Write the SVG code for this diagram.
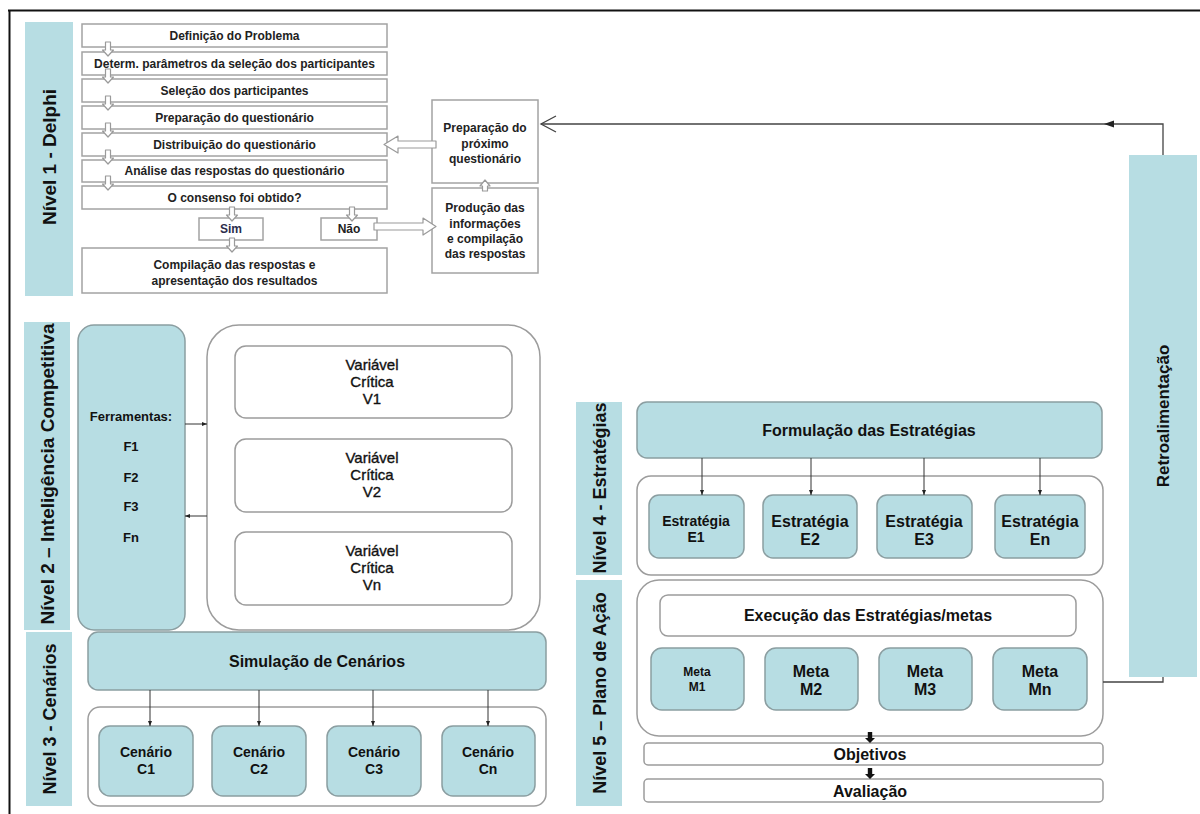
<svg xmlns="http://www.w3.org/2000/svg" width="1200" height="814" viewBox="0 0 1200 814">
  <defs>
    <style>
      .band { fill: #b7dde3; }
      .band-t { font-family: "Liberation Sans", Arial, sans-serif; font-weight: 700; fill: #111; text-anchor: middle; }
      .step { fill: #fff; stroke: #a3a3a3; stroke-width: 1.5; }
      .step-t { font-family: "Liberation Sans", Arial, sans-serif; font-weight: 700; font-size: 12px; fill: #222; text-anchor: middle; }
      .teal { fill: #b7dde3; stroke: #8b9ea1; stroke-width: 1.5; }
      .frame { fill: #fff; stroke: #9c9c9c; stroke-width: 1.5; }
      .lbl { font-family: "Liberation Sans", Arial, sans-serif; font-weight: 700; fill: #111; text-anchor: middle; }
      .var { font-family: "Liberation Sans", Arial, sans-serif; font-size: 15px; fill: #111; stroke: #111; stroke-width: 0.35; text-anchor: middle; }
      .hollow { fill: #fff; stroke: #9a9a9a; stroke-width: 1.2; stroke-linejoin: round; }
      .link { fill: none; stroke: #333; stroke-width: 1; }
      .fb { fill: none; stroke: #444; stroke-width: 1.3; }
      .thick { fill: #111; }
    </style>
    <marker id="tip" viewBox="0 0 10 10" refX="10" refY="5" markerWidth="5" markerHeight="5" orient="auto">
      <path d="M0,1 L10,5 L0,9 z" fill="#222"/>
    </marker>
    <!-- hollow down arrow, tip at origin -->
    <path id="hdown" d="M-2.5,-14 L2.5,-14 L2.5,-6 L5.5,-6 L0,0 L-5.5,-6 L-2.5,-6 z"/>
    <!-- thick black down arrow, tip at origin -->
    <path id="bdown" d="M-2.2,-11 L2.2,-11 L2.2,-5 L5,-5 L0,0 L-5,-5 L-2.2,-5 z"/>
  </defs>

  <rect width="1200" height="814" fill="#fff"/>
  <!-- page edges -->
  <path d="M8,10.5 H1200 M9.5,10 V814" stroke="#111" stroke-width="2" fill="none"/>

  <!-- ============ Level 1 : Delphi ============ -->
  <g id="nivel1">
    <rect class="band" x="25" y="22" width="48" height="274"/>
    <text class="band-t" font-size="19" font-weight="bold" transform="translate(55.5,157) rotate(-90)">Nível 1 - Delphi</text>
  </g>
  <g id="definicao"><rect class="step" x="82" y="24" width="305" height="23"/><text class="step-t" x="234.5" y="40">Definição do Problema</text></g>
  <g id="determ"><rect class="step" x="82" y="52" width="305" height="23"/><text class="step-t" x="234.5" y="68">Determ. parâmetros da seleção dos participantes</text></g>
  <g id="selecao"><rect class="step" x="82" y="79" width="305" height="23"/><text class="step-t" x="234.5" y="95">Seleção dos participantes</text></g>
  <g id="preparacao"><rect class="step" x="82" y="106" width="305" height="23"/><text class="step-t" x="234.5" y="122">Preparação do questionário</text></g>
  <g id="distribuicao"><rect class="step" x="82" y="133" width="305" height="23"/><text class="step-t" x="234.5" y="149">Distribuição do questionário</text></g>
  <g id="analise"><rect class="step" x="82" y="160" width="305" height="22"/><text class="step-t" x="234.5" y="175">Análise das respostas do questionário</text></g>
  <g id="consenso"><rect class="step" x="82" y="186" width="305" height="23"/><text class="step-t" x="234.5" y="202">O consenso foi obtido?</text></g>
  <g id="sim"><rect class="step" x="199" y="218" width="64" height="22"/><text class="step-t" x="231" y="233" style="fill:#2b2d4c">Sim</text></g>
  <g id="nao"><rect class="step" x="321" y="218" width="56" height="22"/><text class="step-t" x="349" y="233">Não</text></g>
  <g id="compilacao"><rect class="step" x="82" y="248" width="305" height="45"/>
    <text class="step-t" x="234.5" y="269">Compilação das respostas e</text>
    <text class="step-t" x="234.5" y="285">apresentação dos resultados</text></g>
  <g id="proximo"><rect class="step" x="432" y="100" width="106" height="83"/>
    <text class="step-t" x="485" y="132">Preparação do</text>
    <text class="step-t" x="485" y="148">próximo</text>
    <text class="step-t" x="485" y="163">questionário</text></g>
  <g id="producao"><rect class="step" x="432" y="188" width="106" height="85"/>
    <text class="step-t" x="485" y="212">Produção das</text>
    <text class="step-t" x="485" y="228">informações</text>
    <text class="step-t" x="485" y="243">e compilação</text>
    <text class="step-t" x="485" y="258">das respostas</text></g>

  <!-- ============ Level 2 : Competitive intelligence ============ -->
  <g id="nivel2">
    <rect class="band" x="24" y="322" width="46" height="308"/>
    <text class="band-t" font-size="19" font-weight="bold" transform="translate(54,474) rotate(-90)">Nível 2 – Inteligência Competitiva</text>
  </g>
  <g id="ferramentas">
    <rect class="teal" x="78" y="325" width="107" height="305" rx="16"/>
    <text class="lbl" font-size="13" x="131" y="421">Ferramentas:</text>
    <text class="lbl" font-size="13" x="131" y="451">F1</text>
    <text class="lbl" font-size="13" x="131" y="482">F2</text>
    <text class="lbl" font-size="13" x="131" y="511">F3</text>
    <text class="lbl" font-size="13" x="131" y="542">Fn</text>
  </g>
  <g id="variaveis">
    <rect class="frame" x="207" y="325" width="333" height="305" rx="32"/>
  </g>
  <g id="v1"><rect class="frame" x="235" y="346" width="277" height="72" rx="11"/>
    <text class="var" x="372" y="370">Variável</text><text class="var" x="372" y="387">Crítica</text><text class="var" x="372" y="404">V1</text></g>
  <g id="v2"><rect class="frame" x="235" y="439" width="277" height="73" rx="11"/>
    <text class="var" x="372" y="463">Variável</text><text class="var" x="372" y="480">Crítica</text><text class="var" x="372" y="497">V2</text></g>
  <g id="vn"><rect class="frame" x="235" y="532" width="277" height="73" rx="11"/>
    <text class="var" x="372" y="556">Variável</text><text class="var" x="372" y="573">Crítica</text><text class="var" x="372" y="590">Vn</text></g>

  <!-- ============ Level 3 : Scenarios ============ -->
  <g id="nivel3">
    <rect class="band" x="26" y="632" width="46" height="174"/>
    <text class="band-t" font-size="18" font-weight="bold" transform="translate(55.5,719) rotate(-90)">Nível 3 - Cenários</text>
  </g>
  <g id="simulacao"><rect class="teal" x="88" y="632" width="458" height="58" rx="10"/>
    <text class="lbl" font-size="16" x="317" y="667">Simulação de Cenários</text></g>
  <g id="cenarios"><rect class="frame" x="88" y="707" width="458" height="99" rx="12"/></g>
  <g id="c1"><rect class="teal" x="99" y="726" width="94" height="70" rx="11"/>
    <text class="lbl" font-size="14" x="146" y="757">Cenário</text><text class="lbl" font-size="14" x="146" y="774">C1</text></g>
  <g id="c2"><rect class="teal" x="212" y="726" width="94" height="70" rx="11"/>
    <text class="lbl" font-size="14" x="259" y="757">Cenário</text><text class="lbl" font-size="14" x="259" y="774">C2</text></g>
  <g id="c3"><rect class="teal" x="327" y="726" width="94" height="70" rx="11"/>
    <text class="lbl" font-size="14" x="374" y="757">Cenário</text><text class="lbl" font-size="14" x="374" y="774">C3</text></g>
  <g id="cn"><rect class="teal" x="442" y="726" width="93" height="70" rx="11"/>
    <text class="lbl" font-size="14" x="488" y="757">Cenário</text><text class="lbl" font-size="14" x="488" y="774">Cn</text></g>

  <!-- ============ Level 4 : Strategies ============ -->
  <g id="nivel4">
    <rect class="band" x="576" y="402" width="46" height="173"/>
    <text class="band-t" font-size="18" font-weight="bold" transform="translate(605.5,488) rotate(-90)">Nível 4 - Estratégias</text>
  </g>
  <g id="formulacao"><rect class="teal" x="637" y="402" width="465" height="56" rx="10"/>
    <text class="lbl" font-size="16" x="869" y="436">Formulação das Estratégias</text></g>
  <g id="estrategias"><rect class="frame" x="637" y="476" width="466" height="99" rx="14"/></g>
  <g id="e1"><rect class="teal" x="649" y="495" width="95" height="63" rx="10"/>
    <text class="lbl" font-size="14" x="696" y="526">Estratégia</text><text class="lbl" font-size="14" x="696" y="542">E1</text></g>
  <g id="e2"><rect class="teal" x="763" y="495" width="94" height="63" rx="10"/>
    <text class="lbl" font-size="16" x="810" y="527">Estratégia</text><text class="lbl" font-size="16" x="810" y="545">E2</text></g>
  <g id="e3"><rect class="teal" x="877" y="495" width="95" height="63" rx="10"/>
    <text class="lbl" font-size="16" x="924" y="527">Estratégia</text><text class="lbl" font-size="16" x="924" y="545">E3</text></g>
  <g id="en"><rect class="teal" x="995" y="495" width="90" height="63" rx="10"/>
    <text class="lbl" font-size="16" x="1040" y="527">Estratégia</text><text class="lbl" font-size="16" x="1040" y="545">En</text></g>

  <!-- ============ Level 5 : Action plan ============ -->
  <g id="nivel5">
    <rect class="band" x="576" y="580" width="46" height="226"/>
    <text class="band-t" font-size="18" font-weight="bold" transform="translate(605.5,693) rotate(-90)">Nível 5 – Plano de Ação</text>
  </g>
  <g id="plano"><rect class="frame" x="637" y="580" width="466" height="156" rx="22"/></g>
  <g id="execucao"><rect class="frame" x="660" y="595" width="416" height="41" rx="8"/>
    <text class="lbl" font-size="16" x="868" y="621">Execução das Estratégias/metas</text></g>
  <g id="m1"><rect class="teal" x="651" y="648" width="93" height="62" rx="11"/>
    <text class="lbl" font-size="12" x="697" y="676">Meta</text><text class="lbl" font-size="12" x="697" y="691">M1</text></g>
  <g id="m2"><rect class="teal" x="765" y="648" width="93" height="62" rx="11"/>
    <text class="lbl" font-size="16" x="811" y="677">Meta</text><text class="lbl" font-size="16" x="811" y="695">M2</text></g>
  <g id="m3"><rect class="teal" x="879" y="648" width="93" height="62" rx="11"/>
    <text class="lbl" font-size="16" x="925" y="677">Meta</text><text class="lbl" font-size="16" x="925" y="695">M3</text></g>
  <g id="mn"><rect class="teal" x="993" y="648" width="94" height="62" rx="11"/>
    <text class="lbl" font-size="16" x="1040" y="677">Meta</text><text class="lbl" font-size="16" x="1040" y="695">Mn</text></g>
  <g id="objetivos"><rect class="frame" x="644" y="743" width="459" height="22" rx="4"/>
    <text class="lbl" font-size="16" x="870" y="760">Objetivos</text></g>
  <g id="avaliacao"><rect class="frame" x="644" y="779" width="459" height="23" rx="4"/>
    <text class="lbl" font-size="16" x="870" y="797">Avaliação</text></g>

  <!-- ============ Feedback ============ -->
  <g id="retroalimentacao">
    <rect class="band" x="1129" y="155" width="68" height="522"/>
    <text class="band-t" font-size="17" font-weight="bold" transform="translate(1169,416) rotate(-90)">Retroalimentação</text>
  </g>

  <!-- ============ Connectors ============ -->
  <g id="connectors">
    <!-- Delphi step arrows -->
    <use href="#hdown" class="hollow" x="108" y="56"/>
    <use href="#hdown" class="hollow" x="108" y="83"/>
    <use href="#hdown" class="hollow" x="108" y="110"/>
    <use href="#hdown" class="hollow" x="108" y="137"/>
    <use href="#hdown" class="hollow" x="108" y="164"/>
    <use href="#hdown" class="hollow" x="108" y="190"/>
    <use href="#hdown" class="hollow" x="232" y="221"/>
    <use href="#hdown" class="hollow" x="352" y="221"/>
    <use href="#hdown" class="hollow" x="232" y="252"/>
    <!-- Produção -> Preparação -->
    <path class="hollow" d="M482.5,191 L482.5,186 L480,186 L485,180 L490,186 L487.5,186 L487.5,191 z"/>
    <!-- Preparação -> Distribuição -->
    <path class="hollow" d="M436,141 L398,141 L398,136 L384,144.5 L398,153 L398,148 L436,148 z"/>
    <!-- Não -> Produção -->
    <path class="hollow" d="M374,223 L423,223 L423,218 L436,226.5 L423,235 L423,230 L374,230 z"/>

    <!-- Ferramentas <-> variáveis -->
    <path class="link" d="M185,424 H207" marker-end="url(#tip)"/>
    <path class="link" d="M207,516 H185" marker-end="url(#tip)"/>

    <!-- Simulação -> cenários -->
    <path class="link" d="M150,690 V726" marker-end="url(#tip)"/>
    <path class="link" d="M259,690 V726" marker-end="url(#tip)"/>
    <path class="link" d="M373,690 V726" marker-end="url(#tip)"/>
    <path class="link" d="M488,690 V726" marker-end="url(#tip)"/>

    <!-- Formulação -> estratégias -->
    <path class="link" d="M702,458 V495" marker-end="url(#tip)"/>
    <path class="link" d="M811,458 V495" marker-end="url(#tip)"/>
    <path class="link" d="M924,458 V495" marker-end="url(#tip)"/>
    <path class="link" d="M1040,458 V495" marker-end="url(#tip)"/>

    <!-- Plano -> Objetivos -> Avaliação -->
    <use href="#bdown" class="thick" x="870" y="743"/>
    <use href="#bdown" class="thick" x="870" y="779"/>

    <!-- feedback loop back to Delphi -->
    <path class="fb" d="M1103,682 H1163 V677"/>
    <path class="fb" d="M1163,155 V124 H541"/>
    <path d="M1104,124 L1114,120.5 L1114,127.5 z" fill="#222"/>
    <path class="fb" d="M556,116 L541,124 L556,132"/>
  </g>
</svg>
